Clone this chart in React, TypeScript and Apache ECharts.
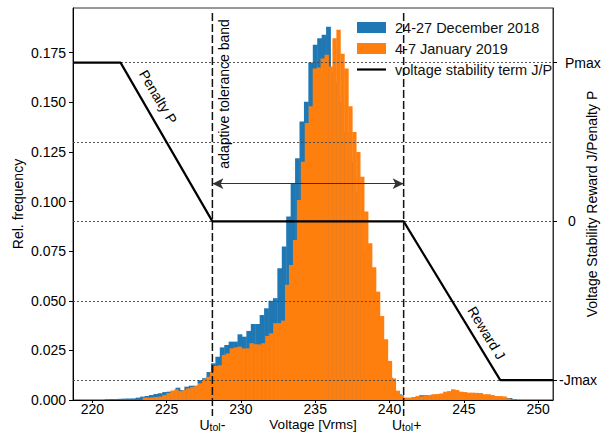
import React, { useEffect, useRef } from "react";
import * as echarts from "echarts";

// ---- data ----
const decBinStart = 220.83;
const decBinWidth = 0.298;
const decValues = [
  0.0004, 0.0005, 0.0005, 0.0006, 0.0007, 0.0007, 0.0008, 0.0012, 0.0017, 0.002,
  0.0025, 0.003, 0.0034, 0.004, 0.0042, 0.0045, 0.0062, 0.005, 0.0067, 0.0072,
  0.0072, 0.01, 0.011, 0.0141, 0.0185, 0.0218, 0.0265, 0.0277, 0.0294, 0.0294,
  0.0331, 0.0319, 0.0348, 0.0383, 0.0383, 0.0428, 0.0462, 0.05, 0.0513, 0.0664,
  0.0773, 0.0924, 0.109, 0.1218, 0.1403, 0.1503, 0.17, 0.179, 0.1823, 0.184,
  0.188, 0.165, 0.16, 0.15, 0.135, 0.12, 0.105, 0.09, 0.075, 0.06,
  0.045, 0.033, 0.022, 0.016, 0.0112, 0.004, 0.0029, 0.0008, 0.0006, 0.0008,
  0.0015, 0.0024, 0.0024, 0.0022, 0.0025, 0.0027, 0.003, 0.0033, 0.0035, 0.0035,
  0.0033, 0.003, 0.0028, 0.0026, 0.0024, 0.002, 0.0018, 0.0016, 0.0014, 0.0013,
  0.0011, 0.001, 0.0003, 0, 0, 0, 0, 0, 0, 0,
];

const janBinStart = 223.39;
const janBinWidth = 0.266;
const janValues = [
  0.0012, 0.0012, 0.0013, 0.0015, 0.0018, 0.0025, 0.0035, 0.0048, 0.0054, 0.0045,
  0.005, 0.0059, 0.0065, 0.007, 0.0084, 0.0104, 0.0117, 0.0143, 0.0171, 0.0175,
  0.0227, 0.0235, 0.026, 0.0265, 0.0269, 0.026, 0.026, 0.0286, 0.0281, 0.028,
  0.0286, 0.0323, 0.0336, 0.0387, 0.0387, 0.04, 0.058, 0.068, 0.0806, 0.1008,
  0.12, 0.1395, 0.148, 0.167, 0.1675, 0.172, 0.1739, 0.168, 0.1823, 0.1865,
  0.1744, 0.167, 0.148, 0.135, 0.125, 0.1125, 0.095, 0.079, 0.0669, 0.0546,
  0.0423, 0.0306, 0.0197, 0.0109, 0.0047, 0.0025, 0.0012, 0.0012, 0.0015, 0.002,
  0.0018, 0.0022, 0.0025, 0.0029, 0.003, 0.0033, 0.0042, 0.0045, 0.0054, 0.005,
  0.0042, 0.004, 0.0037, 0.0037, 0.0036, 0.0035, 0.0029, 0.0029, 0.0025, 0.002,
  0.002, 0.0018, 0.0008, 0.0002, 0, 0, 0, 0, 0, 0,
];

const termX = [218.7, 221.9, 228.08, 240.95, 247.45, 251.0];
const termY = [0.17, 0.17, 0.09, 0.09, 0.01, 0.01];

const gridLevels = [0.01, 0.05, 0.09, 0.13, 0.17];
const rightTickValues = [0.01, 0.09, 0.17];
const rightTickLabels = ["-Jmax", "0", "Pmax"];
const xTicks = [220, 225, 230, 235, 240, 245, 250];
const yTicks = [0, 0.025, 0.05, 0.075, 0.1, 0.125, 0.15, 0.175];

const uTolMinus = 228.08;
const uTolPlus = 240.95;
const bandArrowY = 0.109;

const xMin = 218.7;
const xMax = 251.0;
const yMax = 0.1975;

const FONT = "Liberation Sans";
const FS = 14;

const histRender = (color: string) => (params: any, api: any) => {
  const h = api.value(2);
  if (!h) return null;
  const a = api.coord([api.value(0), h]);
  const b = api.coord([api.value(1), 0]);
  return {
    type: "rect",
    shape: { x: a[0], y: a[1], width: b[0] - a[0] + 0.4, height: b[1] - a[1] },
    style: { fill: color },
  };
};

export default function App() {
  const ref = useRef<HTMLDivElement>(null);
  useEffect(() => {
    if (!ref.current) return;
    const chart = echarts.init(ref.current, null, { renderer: "svg" });
    const decData = decValues.map((h, i) => [
      decBinStart + i * decBinWidth,
      decBinStart + (i + 1) * decBinWidth,
      h,
    ]);
    const janData = janValues.map((h, i) => [
      janBinStart + i * janBinWidth,
      janBinStart + (i + 1) * janBinWidth,
      h,
    ]);
    const termData = termX.map((x, i) => [x, termY[i]]);

    chart.setOption({
      animation: false,
      textStyle: { fontFamily: FONT },
      grid: {
        left: 73,
        right: 54,
        top: 8,
        bottom: 33,
        containLabel: false,
        outerBoundsMode: "none",
        show: true,
        borderColor: "#333",
        borderWidth: 1,
      },
      legend: {
        orient: "vertical",
        left: 357,
        top: 20,
        padding: 0,
        itemWidth: 29,
        itemHeight: 11,
        itemGap: 6,
        formatter: (n: string) => " " + n,
        textStyle: { fontSize: 14.5, color: "#111", fontFamily: FONT },
        data: [
          { name: "24-27 December 2018", icon: "rect" },
          { name: "4-7 January 2019", icon: "rect" },
          { name: "voltage stability term J/P", icon: "path://M0,0 L29,0 L29,2.2 L0,2.2 Z" },
        ],
      },
      xAxis: {
        type: "value",
        min: xMin,
        max: xMax,
        name: "Voltage [Vrms]",
        nameLocation: "middle",
        nameGap: 17,
        nameMoveOverlap: false,
        nameTextStyle: { fontSize: 13.5, lineHeight: 14, color: "#000", fontFamily: FONT },
        axisLine: { show: true, lineStyle: { color: "#000", width: 1 } },
        axisTick: { show: true, length: 3, customValues: xTicks, lineStyle: { color: "#000" } },
        axisLabel: {
          customValues: xTicks,
          fontSize: FS,
          lineHeight: 14,
          color: "#000",
          margin: 2,
          fontFamily: FONT,
        },
        splitLine: { show: false },
      },
      yAxis: [
        {
          type: "value",
          min: 0,
          max: yMax,
          name: "Rel. frequency",
          nameLocation: "middle",
          nameGap: 48,
          nameMoveOverlap: false,
          nameTextStyle: { fontSize: FS, color: "#000", fontFamily: FONT },
          axisLine: { show: true, lineStyle: { color: "#000", width: 1 } },
          axisTick: { show: true, length: 4, customValues: yTicks, lineStyle: { color: "#000" } },
          axisLabel: {
            customValues: yTicks,
            fontSize: FS,
            color: "#000",
            margin: 7,
            fontFamily: FONT,
            formatter: (v: number) => v.toFixed(3),
          },
          splitLine: { show: false },
        },
        {
          type: "value",
          min: 0,
          max: yMax,
          position: "right",
          name: "Voltage Stability Reward J/Penalty P",
          nameLocation: "middle",
          nameRotate: 90,
          nameGap: 32,
          nameMoveOverlap: false,
          nameTextStyle: { fontSize: FS, color: "#000", fontFamily: FONT },
          axisLine: { show: true, lineStyle: { color: "#333", width: 1 } },
          axisTick: { show: true, length: 4, customValues: rightTickValues, lineStyle: { color: "#000" } },
          axisLabel: {
            customValues: rightTickValues,
            fontSize: FS,
            color: "#000",
            margin: 6,
            fontFamily: FONT,
            formatter: (v: number) => {
              const i = rightTickValues.findIndex((t) => Math.abs(t - v) < 1e-6);
              const s = i >= 0 ? rightTickLabels[i] : "";
              if (s === "Pmax") return "{p|" + s + "}";
              if (s === "0") return "{z|" + s + "}";
              return s;
            },
            rich: {
              p: { fontSize: FS, fontFamily: FONT, padding: [0, 0, 0, 6] },
              z: { fontSize: FS, fontFamily: FONT, padding: [0, 0, 0, 9] },
            },
          },
          splitLine: { show: false },
        },
      ],
      series: [
        {
          name: "24-27 December 2018",
          type: "custom",
          renderItem: histRender("#1f77b4"),
          itemStyle: { color: "#1f77b4" },
          encode: { x: [0, 1], y: 2 },
          data: decData,
          clip: true,
          z: 2,
        },
        {
          name: "4-7 January 2019",
          type: "custom",
          renderItem: histRender("#ff7f0e"),
          itemStyle: { color: "#ff7f0e" },
          encode: { x: [0, 1], y: 2 },
          data: janData,
          clip: true,
          z: 3,
          markLine: {
            silent: true,
            symbol: ["arrow", "arrow"],
            symbolSize: [8, 11],
            label: { show: false },
            lineStyle: { color: "#333", width: 1.2, type: "solid" },
            data: [[{ coord: [uTolMinus, bandArrowY] }, { coord: [uTolPlus, bandArrowY] }]],
          },
        },
        {
          name: "voltage stability term J/P",
          type: "line",
          data: termData,
          symbol: "none",
          showSymbol: false,
          lineStyle: { color: "#000", width: 2.2 },
          itemStyle: { color: "#000" },
          z: 6,
          markLine: {
            silent: true,
            symbol: "none",
            label: { show: false },
            lineStyle: { color: "#444", width: 0.9, type: [2, 2] },
            data: gridLevels.map((v) => ({ yAxis: v })),
          },
        },
      ],
    });

    const pt = (x: number, y: number) =>
      chart.convertToPixel({ gridIndex: 0 } as any, [x, y]) as number[];
    const bottomPx = pt(xMin, 0)[1];
    const topPx = pt(xMin, yMax)[1];
    const pm = pt(uTolMinus, 0);
    const pp = pt(uTolPlus, 0);
    const penalty = pt(224.43, 0.1527);
    const reward = pt(246.53, 0.0338);
    const band = pt(228.98, 0.1542);

    const utolText = (sign: string) => "{u|U}{s|tol}{u|" + sign + "}";
    const utolRich = {
      u: { fontSize: 14, lineHeight: 14, fontFamily: FONT, fill: "#000", verticalAlign: "bottom" },
      s: { fontSize: 10.5, lineHeight: 14, fontFamily: FONT, fill: "#000", verticalAlign: "bottom" },
    };

    chart.setOption({
      graphic: [
        {
          type: "line",
          z: 50,
          shape: { x1: pm[0], y1: topPx + 5, x2: pm[0], y2: bottomPx + 16 },
          style: { stroke: "#111", lineWidth: 1.5, lineDash: [8, 3] },
        },
        {
          type: "line",
          z: 50,
          shape: { x1: pp[0], y1: topPx + 5, x2: pp[0], y2: bottomPx + 16 },
          style: { stroke: "#111", lineWidth: 1.5, lineDash: [8, 3] },
        },
        {
          type: "text",
          z: 50,
          x: pm[0],
          y: bottomPx + 25,
          style: { text: utolText("-"), rich: utolRich, align: "center", verticalAlign: "middle", fill: "#000" },
        },
        {
          type: "text",
          z: 50,
          x: pp[0] + 3,
          y: bottomPx + 25,
          style: { text: utolText("+"), rich: utolRich, align: "center", verticalAlign: "middle", fill: "#000" },
        },
        {
          type: "text",
          z: 50,
          x: penalty[0],
          y: penalty[1],
          rotation: (-59 * Math.PI) / 180,
          style: { text: "Penalty P", fontSize: FS, fontFamily: FONT, fill: "#000", align: "center", verticalAlign: "middle" },
        },
        {
          type: "text",
          z: 50,
          x: reward[0],
          y: reward[1],
          rotation: (-59 * Math.PI) / 180,
          style: { text: "Reward J", fontSize: FS, fontFamily: FONT, fill: "#000", align: "center", verticalAlign: "middle" },
        },
        {
          type: "text",
          z: 50,
          x: band[0] - 2,
          y: band[1],
          rotation: Math.PI / 2,
          style: { text: "adaptive tolerance band", fontSize: FS, fontFamily: FONT, fill: "#000", align: "center", verticalAlign: "middle" },
        },
      ],
    });

    return () => chart.dispose();
  }, []);
  return <div ref={ref} style={{ width: 607, height: 433, position: "absolute", left: 0, top: 0 }} />;
}
